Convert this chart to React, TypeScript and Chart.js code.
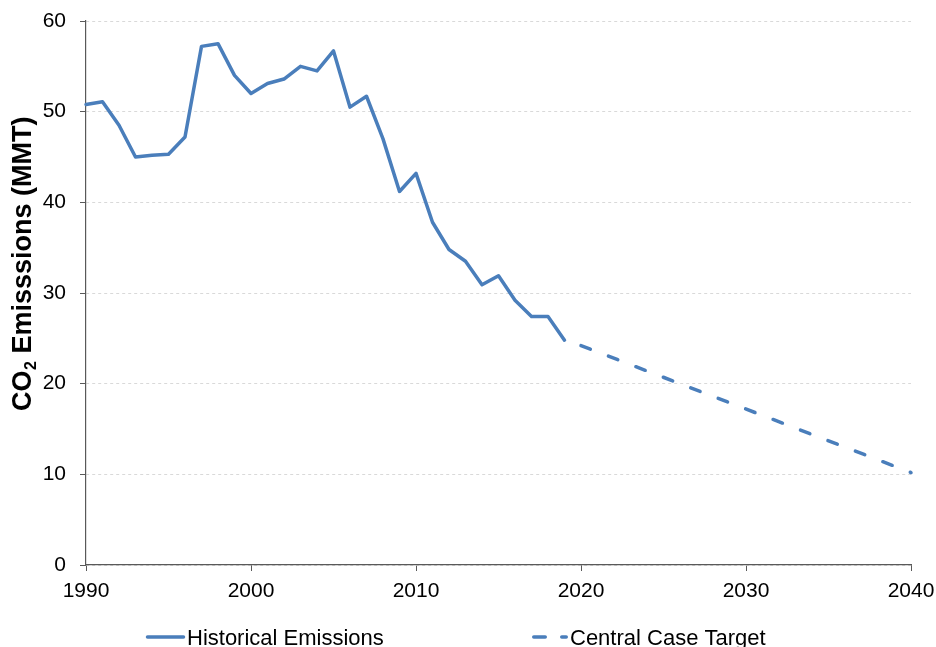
import React, { useEffect, useRef } from "react";
import { Chart, registerables } from "chart.js";

Chart.register(...registerables);

const historicalYears = [
  1990, 1991, 1992, 1993, 1994, 1995, 1996, 1997, 1998, 1999,
  2000, 2001, 2002, 2003, 2004, 2005, 2006, 2007, 2008, 2009,
  2010, 2011, 2012, 2013, 2014, 2015, 2016, 2017, 2018, 2019,
];
const historicalValues = [
  50.8, 51.1, 48.5, 45.0, 45.2, 45.3, 47.2, 57.2, 57.5, 54.0,
  52.0, 53.1, 53.6, 55.0, 54.5, 56.7, 50.5, 51.7, 47.0, 41.2,
  43.2, 37.8, 34.8, 33.5, 30.9, 31.9, 29.2, 27.4, 27.4, 24.8,
];
const targetYears = [2020, 2040];
const targetValues = [24.2, 10.2];
const xTickValues = [1990, 2000, 2010, 2020, 2030, 2040];
const yTickValues = [0, 10, 20, 30, 40, 50, 60];
const seriesLabels = ["Historical Emissions", "Central Case Target"];
const yTitleParts = ["CO", "2", " Emisssions (MMT)"];

const BLUE = "#4a7ebb";
const AXIS = "#595959";
const FONT = '"Liberation Sans", Arial, sans-serif';

const overlayPlugin = {
  id: "overlay",
  afterDraw(chart: any) {
    const ctx: CanvasRenderingContext2D = chart.ctx;
    // Y axis title with subscript
    ctx.save();
    ctx.translate(23.5, 411);
    ctx.rotate(-Math.PI / 2);
    ctx.fillStyle = "#000";
    ctx.textBaseline = "middle";
    ctx.textAlign = "left";
    let x = 0;
    ctx.font = `bold 27px ${FONT}`;
    ctx.fillText(yTitleParts[0], x, 0);
    x += ctx.measureText(yTitleParts[0]).width + 0.5;
    ctx.font = `bold 16px ${FONT}`;
    ctx.fillText(yTitleParts[1], x, 8.5);
    x += ctx.measureText(yTitleParts[1]).width;
    ctx.font = `bold 27px ${FONT}`;
    ctx.fillText(yTitleParts[2], x, 0);
    ctx.restore();

    // Legend
    const labels = chart.data.datasets.map((d: any) => d.label);
    ctx.save();
    ctx.strokeStyle = BLUE;
    ctx.lineWidth = 3.5;
    ctx.lineCap = "round";
    ctx.beginPath();
    ctx.moveTo(147.5, 637);
    ctx.lineTo(183.5, 637);
    ctx.stroke();
    ctx.beginPath();
    ctx.moveTo(533.75, 637);
    ctx.lineTo(545.25, 637);
    ctx.moveTo(561.75, 637);
    ctx.lineTo(566.25, 637);
    ctx.stroke();
    ctx.fillStyle = "#000";
    ctx.font = `22px ${FONT}`;
    ctx.textBaseline = "alphabetic";
    ctx.textAlign = "left";
    ctx.fillText(labels[0], 187, 645);
    ctx.fillText(labels[1], 570, 645);
    ctx.restore();
  },
};

export default function App() {
  const canvasRef = useRef<HTMLCanvasElement | null>(null);

  useEffect(() => {
    if (!canvasRef.current) return;
    const chart = new Chart(canvasRef.current, {
      type: "line",
      data: {
        datasets: [
          {
            label: seriesLabels[0],
            data: historicalYears.map((yr, i) => ({ x: yr, y: historicalValues[i] })),
            borderColor: BLUE,
            backgroundColor: BLUE,
            borderWidth: 3.5,
            pointRadius: 0,
            tension: 0,
            borderJoinStyle: "round",
            borderCapStyle: "round",
            clip: false as any,
          },
          {
            label: seriesLabels[1],
            data: targetYears.map((yr, i) => ({ x: yr, y: targetValues[i] })),
            borderColor: BLUE,
            backgroundColor: BLUE,
            borderWidth: 3.5,
            borderDash: [10, 19.4],
            borderCapStyle: "round",
            pointRadius: 0,
            tension: 0,
            clip: false as any,
          },
        ],
      },
      options: {
        responsive: false,
        animation: false,
        devicePixelRatio: 1,
        layout: { padding: { left: 0, right: 25, top: 21, bottom: 0 } },
        plugins: {
          legend: { display: false },
          tooltip: { enabled: false },
          title: { display: false },
        },
        scales: {
          x: {
            type: "linear",
            min: 1990,
            max: 2040,
            afterBuildTicks: (s: any) => {
              s.ticks = xTickValues.map((v) => ({ value: v }));
            },
            afterFit: (s: any) => {
              s.height = 82;
              s.paddingLeft = 0;
              s.paddingRight = 0;
            },
            ticks: {
              color: "#000",
              font: { family: FONT, size: 21 },
              padding: 8,
              maxRotation: 0,
              autoSkip: false,
              callback: (v: any) => String(v),
            },
            grid: {
              drawOnChartArea: false,
              drawTicks: true,
              tickLength: 6,
              tickColor: AXIS,
              tickWidth: 1,
            },
            border: { display: true, color: AXIS, width: 1.2 },
          },
          y: {
            type: "linear",
            min: 0,
            max: 60,
            afterBuildTicks: (s: any) => {
              s.ticks = yTickValues.map((v) => ({ value: v }));
            },
            afterFit: (s: any) => {
              s.width = 86;
              s.paddingTop = 0;
              s.paddingBottom = 0;
            },
            ticks: {
              color: "#000",
              font: { family: FONT, size: 21 },
              padding: 14,
              autoSkip: false,
              callback: (v: any) => String(v),
            },
            grid: {
              color: "#d9d9d9",
              lineWidth: 1,
              drawTicks: true,
              tickLength: 6,
              tickColor: AXIS,
              tickWidth: 1,
              tickBorderDash: [],
            },
            border: { display: true, color: AXIS, width: 1.2, dash: [3, 3] },
          },
        },
      },
      plugins: [overlayPlugin],
    });
    return () => chart.destroy();
  }, []);

  return (
    <div style={{ position: "absolute", left: 0, top: 0, width: 936, height: 647, background: "#fff" }}>
      <canvas ref={canvasRef} width={936} height={647} style={{ width: 936, height: 647, display: "block" }} />
    </div>
  );
}
